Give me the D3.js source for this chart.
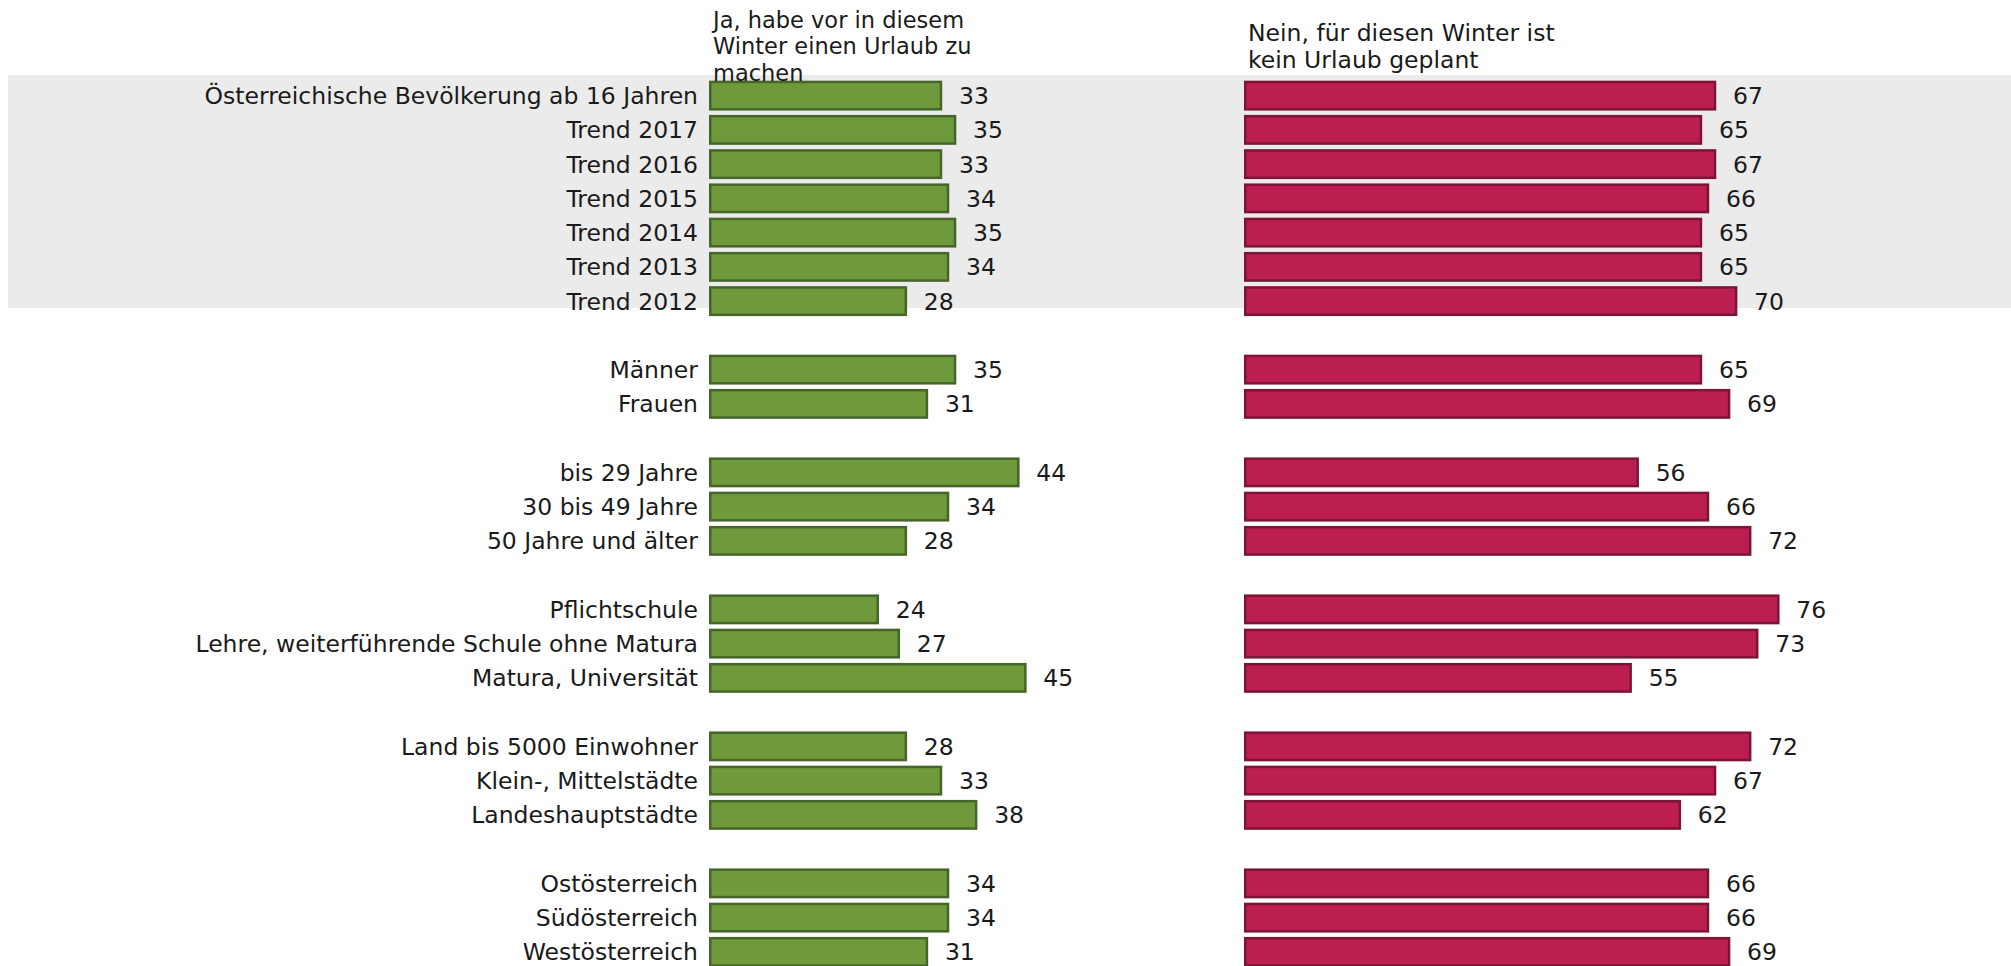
<!DOCTYPE html>
<html>
<head>
<meta charset="utf-8">
<script src="https://d3js.org/d3.v7.min.js"></script>
<style>
body { margin: 0; background: #fff; }
svg text {
  font-family: "DejaVu Sans", sans-serif;
  fill: #1a1a1a;
}
</style>
</head>
<body>
<svg id="chart" width="2011" height="966"></svg>
<script>
// rows, "" = empty spacer row between groups
var categories = [
  "Österreichische Bevölkerung ab 16 Jahren", "Trend 2017", "Trend 2016", "Trend 2015",
  "Trend 2014", "Trend 2013", "Trend 2012", "",
  "Männer", "Frauen", "",
  "bis 29 Jahre", "30 bis 49 Jahre", "50 Jahre und älter", "",
  "Pflichtschule", "Lehre, weiterführende Schule ohne Matura", "Matura, Universität", "",
  "Land bis 5000 Einwohner", "Klein-, Mittelstädte", "Landeshauptstädte", "",
  "Ostösterreich", "Südösterreich", "Westösterreich"
];
var ja = [33, 35, 33, 34, 35, 34, 28, null,
  35, 31, null,
  44, 34, 28, null,
  24, 27, 45, null,
  28, 33, 38, null,
  34, 34, 31];
var nein = [67, 65, 67, 66, 65, 65, 70, null,
  65, 69, null,
  56, 66, 72, null,
  76, 73, 55, null,
  72, 67, 62, null,
  66, 66, 69];
var headerJa = ["Ja, habe vor in diesem", "Winter einen Urlaub zu", "machen"];
var headerNein = ["Nein, für diesen Winter ist", "kein Urlaub geplant"];
var trendRows = 7;

var svg = d3.select("#chart");

var y = d3.scaleBand()
  .domain(d3.range(categories.length))
  .range([78.5, 78.5 + categories.length * 34.25])
  .paddingInner(0.2)
  .paddingOuter(0.1);

var x = d3.scaleLinear().domain([0, 100]).range([0, 703]);

var panels = [
  {left: 709, values: ja, fill: "#6e9a3c", stroke: "#46652a", header: headerJa, hsize: 22.5},
  {left: 1244, values: nein, fill: "#bc1e4f", stroke: "#7c1535", header: headerNein, hsize: 23.5}
];

// grey background behind total + trend rows
var bgTop = y(0) - 7;
var bgBottom = y(trendRows - 1) + y.bandwidth() * 0.75;
svg.append("rect")
  .attr("x", 8).attr("y", bgTop)
  .attr("width", 2011 - 8).attr("height", bgBottom - bgTop)
  .attr("fill", "#ebebeb");

// row labels
svg.append("g").selectAll("text")
  .data(categories)
  .join("text")
  .attr("x", 698)
  .attr("y", function(d, i) { return y(i) + y.bandwidth() / 2; })
  .attr("dy", "0.36em")
  .attr("text-anchor", "end")
  .attr("font-size", "23.5px")
  .text(function(d) { return d; });

panels.forEach(function(p) {
  var g = svg.append("g").attr("transform", "translate(" + p.left + ",0)");
  var rows = p.values.map(function(v, i) { return {v: v, i: i}; })
    .filter(function(d) { return d.v !== null; });

  g.selectAll("rect")
    .data(rows)
    .join("rect")
    .attr("x", 1.25)
    .attr("y", function(d) { return y(d.i); })
    .attr("width", function(d) { return x(d.v) - 1.25; })
    .attr("height", y.bandwidth())
    .attr("fill", p.fill)
    .attr("stroke", p.stroke)
    .attr("stroke-width", 2.5);

  g.selectAll("text.val")
    .data(rows)
    .join("text")
    .attr("class", "val")
    .attr("x", function(d) { return x(d.v) + 18; })
    .attr("y", function(d) { return y(d.i) + y.bandwidth() / 2; })
    .attr("dy", "0.36em")
    .attr("font-size", "23.5px")
    .text(function(d) { return d.v; });

  // header, centred vertically around y=46
  var lh = 26.5;
  var y0 = 46 - (p.header.length - 1) * lh / 2;
  g.selectAll("text.head")
    .data(p.header)
    .join("text")
    .attr("class", "head")
    .attr("x", 4)
    .attr("y", function(d, i) { return y0 + i * lh; })
    .attr("dy", "0.36em")
    .attr("font-size", p.hsize + "px")
    .text(function(d) { return d; });
});
</script>
</body>
</html>
